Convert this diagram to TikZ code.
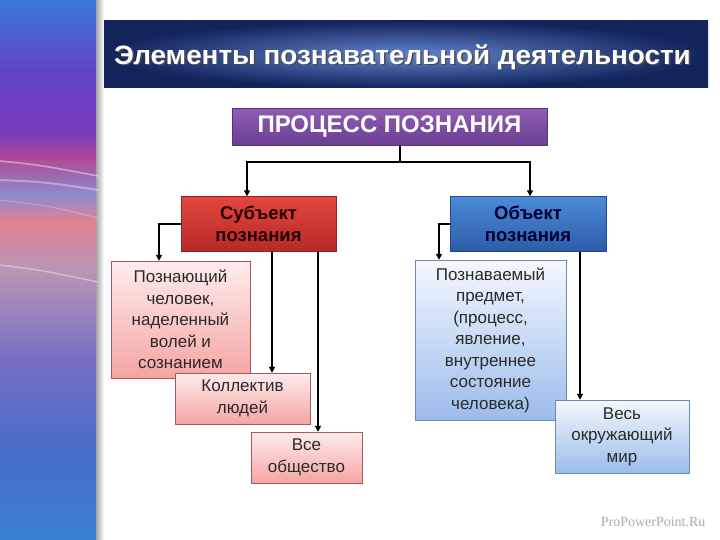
\documentclass[tikz,border=0pt]{standalone}
\usepackage{fontspec}
\setmainfont{Liberation Sans}
\newfontfamily\markfont{Liberation Serif}
\usetikzlibrary{positioning}
\usetikzlibrary{arrows.meta}
\definecolor{ttldark}{HTML}{13235C}
\definecolor{ttllight}{HTML}{6185CC}
\definecolor{proctop}{HTML}{8E5DB2}
\definecolor{procbot}{HTML}{6A3E92}
\definecolor{subjtop}{HTML}{E4463E}
\definecolor{subjbot}{HTML}{B42A28}
\definecolor{objtop}{HTML}{4C8AD8}
\definecolor{objbot}{HTML}{2C5CA8}
\definecolor{pinktop}{HTML}{FFECEC}
\definecolor{pinkbot}{HTML}{F5A4A4}
\definecolor{pinkline}{HTML}{A45A5A}
\definecolor{bluetop}{HTML}{F4F8FD}
\definecolor{bluebot}{HTML}{9CBCEA}
\definecolor{blueline}{HTML}{6E88B4}
\definecolor{bodytext}{HTML}{2A2A2A}
\newcommand{\sidestrip}{\fill[top color={rgb,255:red,58;green,122;blue,216}, bottom color={rgb,255:red,96;green,68;blue,200}] (0,0) rectangle (98,70);
					\fill[top color={rgb,255:red,96;green,68;blue,200}, bottom color={rgb,255:red,122;green,60;blue,184}] (0,70) rectangle (98,135);
					\fill[top color={rgb,255:red,122;green,60;blue,184}, bottom color={rgb,255:red,176;green,72;blue,150}] (0,135) rectangle (98,158);
					\fill[top color={rgb,255:red,176;green,72;blue,150}, bottom color={rgb,255:red,140;green,140;blue,204}] (0,158) rectangle (98,195);
					\fill[top color={rgb,255:red,140;green,140;blue,204}, bottom color={rgb,255:red,226;green,130;blue,146}] (0,195) rectangle (98,222);
					\fill[top color={rgb,255:red,226;green,130;blue,146}, bottom color={rgb,255:red,184;green,150;blue,180}] (0,222) rectangle (98,270);
					\fill[top color={rgb,255:red,184;green,150;blue,180}, bottom color={rgb,255:red,118;green,110;blue,196}] (0,270) rectangle (98,360);
					\fill[top color={rgb,255:red,118;green,110;blue,196}, bottom color={rgb,255:red,72;green,108;blue,200}] (0,360) rectangle (98,450);
					\fill[top color={rgb,255:red,72;green,108;blue,200}, bottom color={rgb,255:red,56;green,128;blue,210}] (0,450) rectangle (98,540);
					\fill[left color=gray!70, right color=white] (96,0) rectangle (104,540);}
\newcommand{\sidestreaks}{\draw[white, opacity=0.45, line width=1.5pt] (0,161) .. controls (40,165) .. (98,176);
					\draw[white, opacity=0.35, line width=2pt] (0,180) .. controls (45,182) .. (98,190);
					\draw[white, opacity=0.25, line width=1pt] (0,200) .. controls (50,206) .. (98,218);
					\draw[white, opacity=0.35, line width=1.5pt] (0,265) .. controls (40,270) .. (98,282);}
\newcommand{\titletext}{\scalebox{1.05}[1]{Элементы познавательной деятельности}}

\tikzset{
	procbox/.style={rectangle, draw=procbot!80!black, top color=proctop, bottom color=procbot, text=white, font=\bfseries\fontsize{24}{26}\selectfont},
	headbox/.style={rectangle, align=center, font=\bfseries\fontsize{18.5}{21.5}\selectfont},
	subjbox/.style={headbox, draw=subjbot!80!black, top color=subjtop, bottom color=subjbot, text=black!85!red},
	objbox/.style={headbox, draw=objbot!80!black, top color=objtop, bottom color=objbot, text=black!80!blue},
	itembox/.style={rectangle, align=center, text=bodytext, font=\fontsize{17}{21.5}\selectfont, inner sep=2pt},
	pinkbox/.style={itembox, draw=pinkline, top color=pinktop, bottom color=pinkbot},
	bluebox/.style={itembox, draw=blueline, top color=bluetop, bottom color=bluebot},
	arr/.style={draw=black, line width=1.6pt, -{Triangle[length=6pt,width=6pt]}}
}

\begin{document}
\begin{tikzpicture}[x=1pt,y=-1pt]
					\useasboundingbox (0,0) rectangle (720,540);
					\fill[white] (0,0) rectangle (720,540);

					\sidestrip
					\sidestreaks

					% title
					\fill[inner color=ttllight, outer color=ttldark] (104,21) rectangle (708,88);
					\node[text=black!70, font=\bfseries\fontsize{26.5}{28}\selectfont] at (404,58.5) {\titletext};
					\node[text=white, font=\bfseries\fontsize{26.5}{28}\selectfont] (title) at (402.5,57) {\titletext};

					\node[procbox, minimum width=315pt, minimum height=37pt] (proc) at (389.5,127) {\raisebox{-2pt}{ПРОЦЕСС ПОЗНАНИЯ}};

					\node[subjbox, minimum width=155pt, minimum height=55pt] (subj) at (258.5,224) {Субъект\\познания};
					\node[objbox, minimum width=156pt, minimum height=55pt] (obj) at (528,224) {Объект\\познания};

					\node[pinkbox, minimum width=139pt, minimum height=117pt] (man) at (180.5,319.5) {Познающий\\человек,\\наделенный\\волей и\\сознанием};
					\node[pinkbox, minimum width=135pt, minimum height=51pt] (group) at (242.5,398.5) {Коллектив\\людей};
					\node[pinkbox, minimum width=111pt, minimum height=51pt] (society) at (306.5,457.5) {Все\\общество};

					\node[bluebox, minimum width=151pt, minimum height=160pt] (thing) at (490.5,340) {Познаваемый\\предмет,\\(процесс,\\явление,\\внутреннее\\состояние\\человека)};
					\node[bluebox, minimum width=134pt, minimum height=73pt] (world) at (622,436.5) {Весь\\окружающий\\мир};

					\coordinate (fork) at (400,162);
					\draw[line width=1.6pt] (proc.south -| fork) -- (fork);
					\draw[arr] (fork) -| ([xshift=-11.5pt]subj.north);
					\draw[arr] (fork) -| ([xshift=2pt]obj.north);

					\draw[arr] (subj.west) -| ([xshift=-21.5pt]man.north);
					\draw[arr] ([xshift=13.5pt]subj.south) -- ([xshift=13.5pt]subj.south |- group.north);
					\draw[arr] ([xshift=59.5pt]subj.south) -- ([xshift=59.5pt]subj.south |- society.north);

					\draw[arr] (obj.west) -| ([xshift=-51.5pt]thing.north);
					\draw[arr] ([xshift=52pt]obj.south) -- ([xshift=52pt]obj.south |- world.north);

					\node[text=gray!65, font=\markfont\fontsize{14}{16}\selectfont, anchor=east] (mark) at (709,522) {ProPowerPoint.Ru};
				\end{tikzpicture}
\end{document}
